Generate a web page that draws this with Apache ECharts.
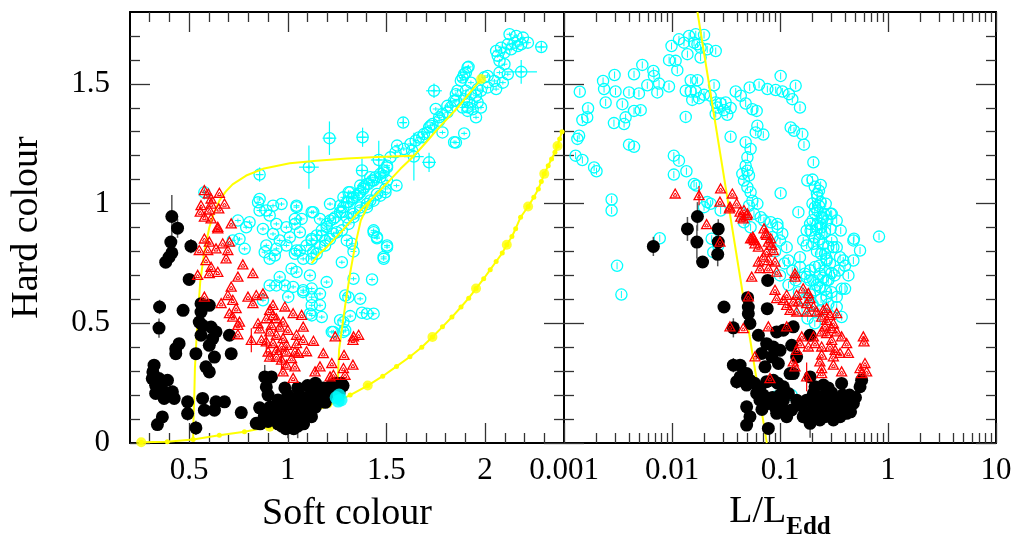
<!DOCTYPE html>
<html>
<head>
<meta charset="utf-8">
<script src="https://cdn.jsdelivr.net/npm/echarts@6/dist/echarts.min.js"></script>
<style>
html, body { margin: 0; padding: 0; background: #fff; }
#chart { width: 1017px; height: 546px; }
</style>
</head>
<body>
<div id="chart"></div>
<script>
// tick positions
var softTicksMajor = [0.5, 1, 1.5, 2];
var softTicksMinor = [0.3, 0.4, 0.6, 0.7, 0.8, 0.9, 1.1, 1.2, 1.3, 1.4, 1.6, 1.7, 1.8, 1.9, 2.1, 2.2, 2.3];
var hardTicksMajor = [0, 0.5, 1, 1.5];
var hardTicksMinor = [0.1, 0.2, 0.3, 0.4, 0.6, 0.7, 0.8, 0.9, 1.1, 1.2, 1.3, 1.4, 1.6, 1.7];
var lumTicksMajor = [0.001, 0.01, 0.1, 1, 10];
var lumTicksMinor = [0.002, 0.003, 0.004, 0.005, 0.006, 0.007, 0.008, 0.009,
  0.02, 0.03, 0.04, 0.05, 0.06, 0.07, 0.08, 0.09,
  0.2, 0.3, 0.4, 0.5, 0.6, 0.7, 0.8, 0.9,
  2, 3, 4, 5, 6, 7, 8, 9];

// left panel: [soft, hard, yerr]
var blackL = [
  [0.412, 0.946, 0.09], [0.441, 0.897, 0.04], [0.407, 0.839], [0.412, 0.794], [0.398, 0.776], [0.381, 0.755],
  [0.509, 0.822, 0.03], [0.5, 0.683], [0.35, 0.568, 0.03], [0.347, 0.48, 0.04], [0.469, 0.554], [0.56, 0.582],
  [0.602, 0.575], [0.56, 0.547], [0.551, 0.505], [0.568, 0.491], [0.611, 0.484], [0.636, 0.464], [0.704, 0.45],
  [0.56, 0.45], [0.619, 0.436], [0.602, 0.408], [0.449, 0.415], [0.432, 0.394], [0.432, 0.373], [0.534, 0.373],
  [0.713, 0.373], [0.628, 0.359], [0.585, 0.318], [0.602, 0.297], [0.322, 0.325, 0.02], [0.316, 0.297],
  [0.313, 0.269, 0.04], [0.347, 0.269], [0.39, 0.262], [0.33, 0.241], [0.364, 0.221], [0.33, 0.207], [0.415, 0.214],
  [0.373, 0.186], [0.424, 0.186], [0.492, 0.172], [0.568, 0.186], [0.636, 0.172], [0.679, 0.172], [0.577, 0.137],
  [0.628, 0.137], [0.492, 0.123, 0.03], [0.364, 0.109], [0.339, 0.077], [0.534, 0.063, 0.03], [0.764, 0.127],
  [0.857, 0.147], [0.84, 0.082], [0.883, 0.276, 0.05], [0.917, 0.276], [0.891, 0.234, 0.04], [0.985, 0.23], [0.9, 0.2],
  [0.92, 0.12], [0.93, 0.1], [0.94, 0.14], [0.95, 0.08], [0.96, 0.12], [0.97, 0.16], [0.98, 0.1], [0.99, 0.13],
  [1.0, 0.09, 0.07], [1.0, 0.15], [1.01, 0.12], [1.02, 0.18], [1.03, 0.1], [1.03, 0.14], [1.04, 0.12], [1.05, 0.16],
  [1.06, 0.11], [1.06, 0.2], [1.07, 0.14], [1.08, 0.12], [1.08, 0.17], [1.09, 0.15], [1.1, 0.13], [1.1, 0.19],
  [1.11, 0.16], [1.12, 0.14], [1.12, 0.21], [1.13, 0.18], [1.14, 0.15], [1.15, 0.2], [1.15, 0.17], [1.16, 0.22],
  [1.17, 0.19], [1.18, 0.23], [1.18, 0.2], [1.19, 0.17], [1.2, 0.22], [1.21, 0.2], [1.22, 0.24], [1.23, 0.22],
  [1.24, 0.25], [1.25, 0.23], [1.26, 0.21], [1.27, 0.25], [1.28, 0.24], [0.97, 0.07], [1.05, 0.07, 0.05], [0.9, 0.09],
  [0.88, 0.11], [0.95, 0.18], [1.0, 0.2], [1.05, 0.23], [1.1, 0.24], [1.03, 0.06], [0.86, 0.08], [0.91, 0.15],
  [1.14, 0.25], [1.12, 0.11], [1.08, 0.08], [0.99, 0.06]
];
var redL = [
  [0.577, 1.054], [0.597, 1.04], [0.653, 1.043], [0.611, 1.019], [0.56, 0.991], [0.611, 0.998], [0.679, 0.998],
  [0.556, 0.964], [0.602, 0.973], [0.65, 0.978], [0.577, 0.943], [0.611, 0.936], [0.645, 0.901], [0.713, 0.915],
  [0.577, 0.852], [0.602, 0.839], [0.645, 0.894], [0.551, 0.804], [0.594, 0.804], [0.636, 0.811], [0.67, 0.832],
  [0.704, 0.839], [0.696, 0.804], [0.687, 0.769], [0.585, 0.762], [0.611, 0.734], [0.645, 0.713], [0.543, 0.7],
  [0.602, 0.707], [0.772, 0.744], [0.823, 0.707], [0.747, 0.693], [0.713, 0.651], [0.577, 0.609], [0.696, 0.616],
  [0.662, 0.582], [0.721, 0.596], [0.738, 0.561], [0.798, 0.609], [0.84, 0.616], [0.874, 0.623], [0.823, 0.582],
  [0.704, 0.54], [0.721, 0.526], [0.747, 0.491], [0.755, 0.505], [0.747, 0.452], [0.925, 0.575], [0.985, 0.568],
  [1.027, 0.54], [1.07, 0.533], [1.078, 0.484], [1.13, 0.425], [1.18, 0.373], [1.138, 0.297], [1.223, 0.332],
  [1.231, 0.283], [1.214, 0.276], [0.849, 0.498], [0.857, 0.477], [0.815, 0.429, 0.05], [0.866, 0.429],
  [0.908, 0.554], [0.925, 0.533], [0.891, 0.519], [0.942, 0.519], [0.976, 0.505], [0.917, 0.491], [0.959, 0.484],
  [1.0, 0.47], [0.908, 0.464], [0.942, 0.45], [0.976, 0.436], [0.891, 0.422, 0.05], [0.925, 0.415], [0.993, 0.408],
  [1.044, 0.415], [0.9, 0.38], [0.942, 0.387], [0.993, 0.38], [1.036, 0.38], [0.908, 0.359], [0.968, 0.346, 0.04],
  [0.993, 0.325], [0.976, 0.297], [0.968, 0.401], [1.019, 0.352], [1.044, 0.45], [1.078, 0.429], [0.942, 0.359],
  [1.333, 0.443], [1.359, 0.45], [1.33, 0.429], [1.285, 0.366], [1.282, 0.311], [1.33, 0.325], [1.29, 0.283],
  [1.24, 0.443], [1.163, 0.318], [1.095, 0.381], [1.053, 0.374], [1.036, 0.318], [1.027, 0.27]
];
// [soft, hard, xerr, yerr]
var cyanL = [
  [0.577, 1.047, 0.01, 0.03], [0.857, 1.121, 0.02, 0.03], [1.107, 1.152, 0.05, 0.09], [1.211, 1.273, 0.035, 0.07],
  [0.857, 1.019], [0.849, 1.005], [0.857, 0.971], [0.891, 0.971], [0.925, 0.991], [0.968, 0.998], [0.747, 0.929],
  [0.806, 0.922], [0.908, 0.95], [1.044, 0.991], [1.036, 0.936], [1.07, 0.936], [1.129, 0.964], [1.214, 0.998],
  [1.282, 1.026], [1.308, 1.047], [1.265, 0.991], [1.231, 0.936], [1.163, 0.936], [1.197, 0.915], [1.274, 0.964],
  [0.993, 0.901], [0.942, 0.915], [0.789, 0.901], [0.874, 0.894],
  [1.379, 1.277, 0.03, 0.04], [1.461, 1.182, 0.04, 0.08], [1.376, 1.138, 0.03, 0.05], [1.639, 1.196, 0.05, 0.1],
  [1.585, 1.338, 0.02, 0.02], [1.741, 1.471, 0.04, 0.03], [1.916, 1.571], [1.716, 1.172, 0.035, 0.04],
  [1.784, 1.297], [1.843, 1.256], [1.894, 1.293], [1.954, 1.36], [1.911, 1.402], [1.962, 1.422], [1.928, 1.457],
  [1.962, 1.478], [1.996, 1.527], [1.877, 1.513], [1.894, 1.54], [1.86, 1.471], [1.852, 1.429], [1.826, 1.402],
  [1.809, 1.381], [1.784, 1.374], [1.767, 1.346], [1.75, 1.395], [1.724, 1.325], [1.707, 1.297], [1.682, 1.277],
  [1.648, 1.263], [1.622, 1.249], [1.588, 1.228], [1.554, 1.242], [1.546, 1.214], [1.52, 1.193], [1.503, 1.158],
  [1.486, 1.138], [1.469, 1.124], [1.444, 1.11], [1.427, 1.096], [1.401, 1.082], [1.384, 1.068], [1.367, 1.047],
  [1.35, 1.033], [1.325, 1.02], [1.308, 1.006], [1.282, 0.985], [1.265, 0.964], [1.24, 0.943], [1.214, 0.929],
  [1.197, 0.902], [1.172, 0.888], [1.146, 0.867], [1.121, 0.846], [1.095, 0.825], [1.061, 0.804], [1.036, 0.79],
  [1.044, 0.985], [1.036, 0.915], [1.121, 0.964], [1.316, 1.047], [1.367, 1.075], [1.418, 1.11], [1.503, 1.096],
  [1.495, 1.061], [1.452, 1.04], [1.418, 1.013], [1.401, 0.985], [1.367, 0.971], [1.333, 0.943], [1.308, 0.915],
  [1.274, 0.888], [1.231, 0.874], [1.189, 0.846], [1.163, 0.818], [1.129, 0.797], [1.551, 1.075], [1.435, 0.888],
  [1.452, 0.86], [1.503, 0.825], [1.486, 0.777],
  [2.124, 1.707], [2.158, 1.7], [2.192, 1.693], [2.217, 1.672], [2.183, 1.665], [2.149, 1.672], [2.115, 1.665],
  [2.081, 1.651], [2.056, 1.637], [2.064, 1.617], [2.098, 1.63], [2.132, 1.644], [2.166, 1.658],
  [2.285, 1.654, 0.03, 0.02], [2.183, 1.55, 0.08, 0.05], [2.073, 1.596], [2.098, 1.582], [2.073, 1.547],
  [2.115, 1.54], [2.047, 1.512], [2.09, 1.505], [2.013, 1.533], [2.013, 1.485], [2.056, 1.478], [1.979, 1.471],
  [1.954, 1.45], [1.979, 1.401], [1.911, 1.568], [1.903, 1.547], [1.886, 1.526], [1.928, 1.505], [1.903, 1.471],
  [1.894, 1.436], [1.92, 1.422], [1.886, 1.401], [1.911, 1.387], [1.937, 1.394], [1.852, 1.457], [1.843, 1.429],
  [1.809, 1.408], [1.767, 1.36], [1.733, 1.332], [1.716, 1.318], [1.69, 1.29], [1.665, 1.276], [1.63, 1.221],
  [1.852, 1.255], [1.503, 1.151], [1.486, 1.13], [1.469, 1.11], [1.435, 1.096], [1.41, 1.082], [1.384, 1.061],
  [1.359, 1.04], [1.333, 1.026], [1.299, 1.005], [1.495, 1.047], [1.469, 1.033], [1.435, 1.012], [1.401, 0.998],
  [1.367, 0.984], [1.333, 0.957], [1.299, 0.943],
  [0.755, 0.852], [0.781, 0.811], [0.721, 0.846], [0.883, 0.797], [0.908, 0.769], [0.942, 0.811], [0.934, 0.783],
  [0.891, 0.825], [0.993, 0.825], [1.044, 0.804], [1.078, 0.769], [1.121, 0.769], [1.146, 0.79], [1.189, 0.825],
  [1.214, 0.852], [1.248, 0.88], [1.172, 0.866], [1.121, 0.852], [1.061, 0.88], [1.01, 0.859], [0.959, 0.846],
  [0.925, 0.873], [1.019, 0.728], [1.044, 0.714], [1.112, 0.7], [1.197, 0.672], [0.908, 0.658], [0.942, 0.658],
  [0.985, 0.658], [1.078, 0.63], [1.121, 0.609], [1.163, 0.623], [0.874, 0.596], [1.121, 0.575], [1.163, 0.575],
  [1.172, 0.526], [1.121, 0.533], [1.231, 0.464], [1.291, 0.616], [1.282, 0.505],
  [1.435, 0.88], [1.452, 0.855], [1.503, 0.818], [1.486, 0.769], [1.333, 0.686], [1.427, 0.683], [1.307, 0.609],
  [1.367, 0.602], [1.316, 0.53], [1.376, 0.544], [1.401, 0.54], [1.435, 0.54], [1.282, 0.464], [1.299, 0.846],
  [1.325, 0.832], [1.333, 0.8], [1.274, 0.755], [1.121, 0.645], [1.112, 0.54], [1.265, 0.513], [1.223, 0.464],
  [1.291, 0.471], [1.078, 0.638], [1.027, 0.652], [1.002, 0.61], [0.959, 0.693]
];
var cyanFillL = [[1.245, 0.19], [1.26, 0.2], [1.27, 0.18], [1.255, 0.175]];

// model tracks (left panel)
var trackDotted = [
  [0.257, 0.003], [0.389, 0.005], [0.52, 0.015], [0.653, 0.032], [0.78, 0.047], [0.908, 0.068], [1.01, 0.095],
  [1.11, 0.125], [1.21, 0.158], [1.316, 0.2], [1.405, 0.24], [1.481, 0.279], [1.551, 0.32], [1.619, 0.36],
  [1.679, 0.4], [1.733, 0.443], [1.784, 0.485], [1.832, 0.526], [1.878, 0.568], [1.917, 0.605], [1.954, 0.645],
  [1.993, 0.686], [2.026, 0.724], [2.056, 0.758], [2.087, 0.793], [2.11, 0.828], [2.136, 0.8625], [2.155, 0.895],
  [2.18, 0.943], [2.218, 0.9875], [2.247, 1.026], [2.27, 1.061], [2.285, 1.092], [2.3, 1.124], [2.32, 1.158],
  [2.337, 1.186], [2.354, 1.214], [2.367, 1.24], [2.378, 1.27], [2.39, 1.3]
];
var trackBig = [
  [0.257, 0.003], [0.908, 0.068], [1.405, 0.24], [1.733, 0.443], [1.954, 0.645], [2.11, 0.828], [2.218, 0.9875],
  [2.3, 1.124], [2.367, 1.24], [1.98, 1.52]
];
var trackA = [
  [0.52, 0.015], [0.522, 0.1], [0.526, 0.2], [0.529, 0.31], [0.536, 0.42], [0.543, 0.52], [0.556, 0.672],
  [0.575, 0.79], [0.602, 0.9], [0.625, 0.96], [0.653, 1.0125], [0.685, 1.05], [0.72, 1.08], [0.789, 1.117],
  [0.874, 1.145], [1.01, 1.168], [1.146, 1.179], [1.3, 1.188], [1.45, 1.194], [1.64, 1.2]
];
var trackB = [
  [1.12, 0.75], [1.16, 0.79], [1.2, 0.82], [1.28, 0.89], [1.35, 0.957], [1.418, 1.0125], [1.52, 1.1],
  [1.571, 1.145], [1.64, 1.2], [1.7, 1.255], [1.758, 1.31], [1.86, 1.4], [1.92, 1.46], [1.98, 1.52]
];
var trackC = [
  [1.255, 0.2], [1.255, 0.29], [1.26, 0.39], [1.275, 0.48], [1.29, 0.57], [1.316, 0.71], [1.34, 0.82],
  [1.37, 0.93], [1.418, 1.0125]
];

// right panel: [L/LEdd, hard, yerr]
var blackR = [
  [0.00672, 0.821, 0.04], [0.0139, 0.894, 0.05], [0.0172, 0.946, 0.06], [0.017, 0.839, 0.07], [0.0192, 0.756],
  [0.0268, 0.894, 0.04], [0.0268, 0.839], [0.0265, 0.788, 0.05], [0.0769, 0.679], [0.0501, 0.607],
  [0.0303, 0.568, 0.02], [0.0509, 0.568], [0.0762, 0.561], [0.037, 0.481, 0.04], [0.0509, 0.54], [0.0527, 0.499],
  [0.0631, 0.45], [0.0931, 0.464], [0.1074, 0.471], [0.1327, 0.485], [0.1283, 0.408], [0.1896, 0.45],
  [0.0752, 0.415], [0.0868, 0.401], [0.1, 0.387], [0.0676, 0.374], [0.0838, 0.36], [0.1426, 0.36], [0.0726, 0.318],
  [0.0966, 0.332], [0.037, 0.325, 0.03], [0.0427, 0.325], [0.0427, 0.276], [0.0397, 0.256, 0.03], [0.0491, 0.29],
  [0.0491, 0.242], [0.0527, 0.262], [0.0608, 0.207], [0.0491, 0.151], [0.0527, 0.11], [0.0491, 0.075],
  [0.078, 0.061], [0.0653, 0.179], [0.078, 0.165], [0.0931, 0.124], [0.1074, 0.179], [0.1194, 0.207],
  [0.1074, 0.235], [0.1327, 0.29], [0.1426, 0.179], [0.1283, 0.138], [0.1153, 0.11], [0.164, 0.11],
  [0.19, 0.082, 0.06], [0.204, 0.124], [0.2346, 0.138], [0.27, 0.124], [0.234, 0.096], [0.312, 0.138], [0.36, 0.151],
  [0.414, 0.124], [0.478, 0.165], [0.36, 0.11], [0.27, 0.165], [0.243, 0.193], [0.204, 0.207], [0.1765, 0.179],
  [0.204, 0.165], [0.372, 0.249], [0.252, 0.242], [0.551, 0.235], [0.57, 0.262], [0.312, 0.096], [0.211, 0.235],
  [0.1074, 0.138], [0.1239, 0.29], [0.19, 0.276], [0.0752, 0.256], [0.0868, 0.262], [0.22, 0.15], [0.25, 0.17],
  [0.29, 0.14], [0.32, 0.18], [0.4, 0.16], [0.44, 0.2], [0.3, 0.21], [0.26, 0.11], [0.17, 0.13], [0.15, 0.16],
  [0.45, 0.13], [0.5, 0.19], [0.34, 0.12], [0.38, 0.2], [0.28, 0.23], [0.058, 0.25], [0.065, 0.23], [0.07, 0.2],
  [0.085, 0.19], [0.09, 0.15], [0.1, 0.2], [0.095, 0.25], [0.068, 0.14]
];
var redR = [
  [0.0107, 1.04], [0.0178, 1.033, 0.04], [0.0282, 1.061], [0.0362, 1.04], [0.0278, 1.006], [0.0397, 0.999],
  [0.0464, 0.971], [0.0499, 0.957], [0.0433, 0.943], [0.0209, 0.912], [0.0711, 0.894], [0.0736, 0.874],
  [0.082, 0.853], [0.0534, 0.853], [0.0344, 0.985], [0.034, 0.978], [0.0427, 0.964], [0.0491, 0.95], [0.0457, 0.936],
  [0.0278, 0.839], [0.0753, 0.867], [0.0566, 0.853], [0.056, 0.86], [0.058, 0.845], [0.0587, 0.832],
  [0.0631, 0.818], [0.078, 0.839], [0.0838, 0.825], [0.0868, 0.804], [0.0753, 0.797], [0.0701, 0.776],
  [0.0631, 0.756], [0.0653, 0.728], [0.078, 0.728], [0.0931, 0.714], [0.0899, 0.756], [0.078, 0.762],
  [0.0547, 0.693], [0.1377, 0.707], [0.1377, 0.693], [0.0899, 0.638], [0.0931, 0.603], [0.1153, 0.617],
  [0.1426, 0.617], [0.164, 0.644], [0.1829, 0.624], [0.1896, 0.603], [0.1153, 0.575], [0.1327, 0.589],
  [0.1239, 0.554], [0.148, 0.589], [0.1426, 0.547], [0.1765, 0.582], [0.2037, 0.568], [0.1765, 0.547],
  [0.219, 0.547], [0.2518, 0.554], [0.2704, 0.561], [0.335, 0.54], [0.29, 0.533], [0.243, 0.526], [0.27, 0.512],
  [0.312, 0.498], [0.261, 0.485], [0.301, 0.478], [0.243, 0.464], [0.27, 0.457], [0.335, 0.464], [0.372, 0.443],
  [0.301, 0.429], [0.204, 0.443], [0.211, 0.415], [0.159, 0.443], [0.153, 0.415], [0.183, 0.401], [0.1426, 0.387],
  [0.243, 0.401], [0.29, 0.401], [0.324, 0.387], [0.414, 0.415], [0.43, 0.374], [0.36, 0.374], [0.312, 0.36],
  [0.243, 0.367], [0.234, 0.339], [0.243, 0.311], [0.312, 0.325], [0.372, 0.297], [0.243, 0.29], [0.1327, 0.339],
  [0.1377, 0.318], [0.1765, 0.276, 0.06], [0.0807, 0.269], [0.591, 0.443], [0.6, 0.422], [0.612, 0.332],
  [0.551, 0.311], [0.57, 0.29], [0.634, 0.297], [0.0457, 0.478], [0.0587, 0.36], [0.0344, 0.485], [0.0509, 0.61],
  [0.078, 0.485], [0.1153, 0.485], [0.1074, 0.596]
];
var cyanR = [
  [0.0116, 1.686], [0.0144, 1.7], [0.0198, 1.704], [0.0129, 1.672], [0.016, 1.672], [0.0184, 1.651], [0.0212, 1.644],
  [0.0254, 1.637], [0.0139, 1.624, 0.03], [0.0184, 1.61], [0.0099, 1.658], [0.0166, 1.707], [0.0172, 1.665],
  [0.0094, 1.599], [0.0108, 1.596], [0.0112, 1.557, 0.03], [0.00445, 1.54], [0.00531, 1.579], [0.00672, 1.554],
  [0.00681, 1.533], [0.00294, 1.537], [0.0023, 1.512], [0.00235, 1.478], [0.0014, 1.467], [0.003, 1.468],
  [0.004, 1.464], [0.00494, 1.46], [0.00591, 1.494], [0.00759, 1.501], [0.00938, 1.489], [0.00731, 1.464],
  [0.00243, 1.422], [0.00347, 1.415], [0.00445, 1.387], [0.00513, 1.39], [0.00167, 1.398, 0.03], [0.00164, 1.36],
  [0.00148, 1.349], [0.00372, 1.36], [0.0036, 1.332], [0.0029, 1.336], [0.00138, 1.283, 0.05], [0.00133, 1.27],
  [0.00128, 1.2, 0.05], [0.00148, 1.182, 0.06], [0.0019, 1.151, 0.06], [0.002, 1.135], [0.00276, 1.017, 0.06],
  [0.00276, 0.971, 0.04], [0.004, 1.246], [0.00445, 1.237],
  [0.0149, 1.515], [0.0172, 1.515], [0.0245, 1.494], [0.0134, 1.471], [0.0149, 1.468], [0.0166, 1.468],
  [0.0198, 1.454], [0.0228, 1.45], [0.0154, 1.433], [0.0178, 1.44], [0.0254, 1.422], [0.0282, 1.418],
  [0.0314, 1.422], [0.0263, 1.401], [0.0303, 1.39], [0.0349, 1.399], [0.0325, 1.371], [0.0254, 1.374],
  [0.0389, 1.468], [0.0433, 1.45, 0.07], [0.0481, 1.418], [0.0555, 1.394], [0.0608, 1.387], [0.0134, 1.362],
  [0.0349, 1.279, 0.04],
  [0.0524, 1.485], [0.064, 1.496], [0.0764, 1.478], [0.0912, 1.474], [0.1052, 1.468], [0.121, 1.457], [0.13, 1.436],
  [0.1396, 1.492], [0.1531, 1.401], [0.1014, 1.533], [0.1256, 1.318], [0.1349, 1.304], [0.161, 1.29],
  [0.1667, 1.246], [0.2037, 1.172], [0.179, 1.096], [0.238, 1.078], [0.2297, 1.054], [0.2218, 1.026],
  [0.238, 1.006], [0.265, 0.999], [0.2218, 0.971], [0.255, 0.957], [0.294, 0.957], [0.274, 0.929], [0.238, 0.915],
  [0.222, 0.894], [0.192, 0.887], [0.294, 0.894], [0.365, 0.887], [0.1014, 1.043], [0.148, 0.964], [0.484, 0.853],
  [0.826, 0.862],
  [0.0617, 1.325], [0.0596, 1.297], [0.0701, 1.288], [0.0481, 1.256], [0.0534, 1.228], [0.0499, 1.193],
  [0.0481, 1.158], [0.0499, 1.137], [0.0448, 1.124], [0.0516, 1.117], [0.0464, 1.096], [0.0499, 1.068],
  [0.0534, 1.047], [0.0555, 1.012], [0.0516, 0.991], [0.0617, 0.999], [0.0574, 0.957], [0.0662, 0.943],
  [0.0711, 0.929], [0.082, 0.922], [0.0945, 0.915], [0.105, 0.874], [0.0464, 0.922], [0.0534, 0.901],
  [0.0104, 1.2], [0.0116, 1.179], [0.0104, 1.121, 0.03], [0.0136, 1.135], [0.016, 1.082], [0.0168, 1.075],
  [0.0212, 1.006], [0.0198, 0.985], [0.0282, 0.971], [0.0228, 0.999], [0.0077, 0.855, 0.03], [0.0031, 0.74, 0.05],
  [0.0034, 0.62, 0.05],
  [0.0233, 0.853], [0.0268, 0.825], [0.0241, 0.797], [0.1, 0.846], [0.1153, 0.818], [0.1194, 0.762], [0.153, 0.735],
  [0.17, 0.707], [0.1896, 0.679], [0.211, 0.638], [0.2346, 0.651], [0.2704, 0.61], [0.335, 0.568], [0.3724, 0.526],
  [0.4, 0.644], [0.335, 0.61], [0.1765, 0.693], [0.211, 0.735], [0.27, 0.762], [0.36, 0.776], [0.234, 0.707],
  [0.1765, 0.887], [0.19, 0.915], [0.243, 0.874], [0.301, 0.846], [0.478, 0.846], [0.551, 0.804], [0.478, 0.762],
  [0.385, 0.762], [0.312, 0.818], [0.261, 0.79], [0.204, 0.832], [0.335, 0.929], [0.301, 0.957], [0.211, 0.985],
  [0.243, 0.943], [0.164, 0.846], [0.153, 0.776], [0.19, 0.721], [0.27, 0.679], [0.1765, 0.825], [0.335, 0.818],
  [0.2037, 0.679], [0.3724, 0.644], [0.09, 0.193], [0.128, 0.2],
  [0.2, 1.1], [0.21, 1.07], [0.22, 1.04], [0.2, 1.0], [0.23, 0.99], [0.21, 0.96], [0.25, 0.94], [0.2, 0.93],
  [0.22, 0.91], [0.24, 0.9], [0.26, 0.88], [0.21, 0.86], [0.23, 0.85], [0.25, 0.83], [0.28, 0.82], [0.22, 0.8],
  [0.24, 0.79], [0.27, 0.77], [0.29, 0.75], [0.23, 0.74], [0.26, 0.72], [0.3, 0.71], [0.25, 0.69], [0.28, 0.68],
  [0.32, 0.7], [0.35, 0.72], [0.4, 0.74], [0.43, 0.7], [0.22, 0.66], [0.26, 0.64], [0.3, 0.63], [0.24, 0.6],
  [0.28, 0.58], [0.19, 0.62], [0.2, 0.58], [0.17, 0.6], [0.15, 0.63], [0.12, 0.66], [0.1, 0.7], [0.11, 0.75],
  [0.09, 0.8], [0.13, 0.72], [0.085, 0.86], [0.095, 0.9], [0.14, 0.68], [0.16, 0.56], [0.18, 0.52], [0.21, 0.5],
  [0.23, 0.55]
];
var trackR = [[0.0172, 1.8], [0.0755, 0]];

var FONT = 'Liberation Serif';
var CYAN = '#00ffff', RED = '#ff0000', YELLOW = '#ffff00';

function fill4(list) {
  return list.map(function (p) { return [p[0], p[1], p[2] || 0, p[3] || 0]; });
}
function fillErr(list) {
  return list.map(function (p) { return [p[0], p[1], 0, p[2] || 0]; });
}

function makeAxis(grid, pos, type, min, max, ticks, len, withLabels, withLine) {
  var ax = {
    type: type, gridIndex: grid, position: pos, min: min, max: max,
    axisLine: { show: withLine, onZero: false, lineStyle: { color: '#000', width: 2 } },
    axisTick: { show: true, inside: true, length: len, customValues: ticks, lineStyle: { color: '#333', width: 1.3 } },
    axisLabel: { show: false },
    splitLine: { show: false },
    minorTick: { show: false }
  };
  if (type === 'log') ax.logBase = 10;
  if (withLabels) {
    ax.axisLabel = {
      show: true, customValues: ticks, fontFamily: FONT, fontSize: 31, color: '#000',
      margin: (pos === 'left') ? 20 : 12
    };
  }
  return ax;
}

var xAxes = [
  makeAxis(0, 'bottom', 'value', 0.2, 2.4, softTicksMajor, 20, true, true),
  makeAxis(0, 'bottom', 'value', 0.2, 2.4, softTicksMinor, 10, false, false),
  makeAxis(0, 'top', 'value', 0.2, 2.4, softTicksMajor, 20, false, true),
  makeAxis(0, 'top', 'value', 0.2, 2.4, softTicksMinor, 10, false, false),
  makeAxis(1, 'bottom', 'log', 0.001, 10, lumTicksMajor, 20, true, true),
  makeAxis(1, 'bottom', 'log', 0.001, 10, lumTicksMinor, 10, false, false),
  makeAxis(1, 'top', 'log', 0.001, 10, lumTicksMajor, 20, false, true),
  makeAxis(1, 'top', 'log', 0.001, 10, lumTicksMinor, 10, false, false)
];
var yAxes = [
  makeAxis(0, 'left', 'value', 0, 1.8, hardTicksMajor, 20, true, true),
  makeAxis(0, 'left', 'value', 0, 1.8, hardTicksMinor, 10, false, false),
  makeAxis(0, 'right', 'value', 0, 1.8, hardTicksMajor, 20, false, true),
  makeAxis(0, 'right', 'value', 0, 1.8, hardTicksMinor, 10, false, false),
  makeAxis(1, 'left', 'value', 0, 1.8, hardTicksMajor, 20, false, true),
  makeAxis(1, 'left', 'value', 0, 1.8, hardTicksMinor, 10, false, false),
  makeAxis(1, 'right', 'value', 0, 1.8, hardTicksMajor, 20, false, true),
  makeAxis(1, 'right', 'value', 0, 1.8, hardTicksMinor, 10, false, false)
];

// axis titles
xAxes[0].name = 'Soft colour';
xAxes[0].nameLocation = 'middle';
xAxes[0].nameGap = 52;
xAxes[0].nameTextStyle = { fontFamily: FONT, fontSize: 38, color: '#000' };
xAxes[4].name = '{a|L/L}{b|Edd}';
xAxes[4].nameLocation = 'middle';
xAxes[4].nameGap = 50;
xAxes[4].nameTextStyle = {
  rich: {
    a: { fontFamily: FONT, fontSize: 38, color: '#000', verticalAlign: 'bottom', padding: [0, 0, 9, 0] },
    b: { fontFamily: FONT, fontSize: 25, fontWeight: 'bold', color: '#000', verticalAlign: 'bottom' }
  }
};
yAxes[0].name = 'Hard colour';
yAxes[0].nameLocation = 'middle';
yAxes[0].nameGap = 84;
yAxes[0].nameRotate = 90;
yAxes[0].nameTextStyle = { fontFamily: FONT, fontSize: 38, color: '#000' };

// renderers
function errRender(color, width) {
  return function (params, api) {
    var x = api.value(0), y = api.value(1), xe = api.value(2), ye = api.value(3);
    var kids = [];
    if (ye > 0) {
      var a = api.coord([x, y - ye]), b = api.coord([x, y + ye]);
      kids.push({ type: 'line', shape: { x1: a[0], y1: a[1], x2: b[0], y2: b[1] }, style: { stroke: color, lineWidth: width } });
    }
    if (xe > 0) {
      var c = api.coord([x - xe, y]), d = api.coord([x + xe, y]);
      kids.push({ type: 'line', shape: { x1: c[0], y1: c[1], x2: d[0], y2: d[1] }, style: { stroke: color, lineWidth: width } });
    }
    return { type: 'group', children: kids };
  };
}
function cyanRender(inner) {
  return function (params, api) {
    var p = api.coord([api.value(0), api.value(1)]);
    var r = 5.6;
    var kids = [{ type: 'circle', shape: { cx: p[0], cy: p[1], r: r }, style: { fill: 'none', stroke: CYAN, lineWidth: 1.3 } }];
    if (inner === 'plus') {
      kids.push({ type: 'line', shape: { x1: p[0] - 3, y1: p[1], x2: p[0] + 3, y2: p[1] }, style: { stroke: CYAN, lineWidth: 1 } });
      kids.push({ type: 'line', shape: { x1: p[0], y1: p[1] - 2, x2: p[0], y2: p[1] + 2 }, style: { stroke: CYAN, lineWidth: 1 } });
    } else {
      kids.push({ type: 'line', shape: { x1: p[0], y1: p[1] - 3.5, x2: p[0], y2: p[1] + 3.5 }, style: { stroke: CYAN, lineWidth: 1 } });
    }
    return { type: 'group', children: kids };
  };
}
function triRender(params, api) {
  var p = api.coord([api.value(0), api.value(1)]);
  var w = 5, h = 5;
  return {
    type: 'group', children: [
      { type: 'polygon', shape: { points: [[p[0], p[1] - h], [p[0] + w, p[1] + h * 0.8], [p[0] - w, p[1] + h * 0.8]] },
        style: { fill: 'none', stroke: RED, lineWidth: 1.3 } },
      { type: 'polygon', shape: { points: [[p[0], p[1] - 1], [p[0] + 2, p[1] + 2.2], [p[0] - 2, p[1] + 2.2]] },
        style: { fill: 'none', stroke: RED, lineWidth: 1 } }
    ]
  };
}

function panelSeries(g, black, red, cyan, cyanInner, extraLines) {
  var xi = g * 4, yi = g * 4;
  var s = [];
  s.push({ type: 'custom', xAxisIndex: xi, yAxisIndex: yi, clip: true, silent: true, data: fill4(cyan), renderItem: errRender(CYAN, 1.2), z: 2 });
  s.push({ type: 'custom', xAxisIndex: xi, yAxisIndex: yi, clip: true, silent: true, data: fill4(cyan), renderItem: cyanRender(cyanInner), z: 2 });
  extraLines.forEach(function (l) {
    l.xAxisIndex = xi; l.yAxisIndex = yi; l.z = 3; l.silent = true;
    s.push(l);
  });
  s.push({ type: 'custom', xAxisIndex: xi, yAxisIndex: yi, clip: true, silent: true, data: fillErr(black), renderItem: errRender('#555', 1.5), z: 4 });
  s.push({ type: 'scatter', xAxisIndex: xi, yAxisIndex: yi, silent: true, symbol: 'circle', symbolSize: 13,
    itemStyle: { color: '#000', opacity: 1 }, data: black.map(function (p) { return [p[0], p[1]]; }), z: 4 });
  s.push({ type: 'custom', xAxisIndex: xi, yAxisIndex: yi, clip: true, silent: true, data: fillErr(red), renderItem: errRender(RED, 1.2), z: 5 });
  s.push({ type: 'custom', xAxisIndex: xi, yAxisIndex: yi, clip: true, silent: true, data: fill4(red), renderItem: triRender, z: 5 });
  return s;
}

function yLine(data, dots) {
  return {
    type: 'line', data: data, clip: true, smooth: false,
    symbol: 'circle', showSymbol: !!dots, symbolSize: 5,
    lineStyle: { color: YELLOW, width: 2 }, itemStyle: { color: YELLOW }
  };
}

var series = [].concat(
  panelSeries(0, blackL, redL, cyanL, 'plus', [
    yLine(trackA, false), yLine(trackB, false), yLine(trackC, false), yLine(trackDotted, true),
    { type: 'scatter', data: trackBig, symbol: 'circle', symbolSize: 10, itemStyle: { color: YELLOW } }
  ]),
  panelSeries(1, blackR, redR, cyanR, 'bar', [yLine(trackR, false)])
);
series.push({ type: 'scatter', xAxisIndex: 0, yAxisIndex: 0, silent: true, symbol: 'circle', symbolSize: 13,
  itemStyle: { color: CYAN }, data: cyanFillL, z: 6 });

var option = {
  animation: false,
  backgroundColor: '#fff',
  grid: [
    { left: 130, top: 12, width: 434, height: 431, outerBoundsMode: 'none' },
    { left: 564, top: 12, width: 432, height: 431, outerBoundsMode: 'none' }
  ],
  xAxis: xAxes,
  yAxis: yAxes,
  series: series
};

var chart = echarts.init(document.getElementById('chart'));
chart.setOption(option);
</script>
</body>
</html>
